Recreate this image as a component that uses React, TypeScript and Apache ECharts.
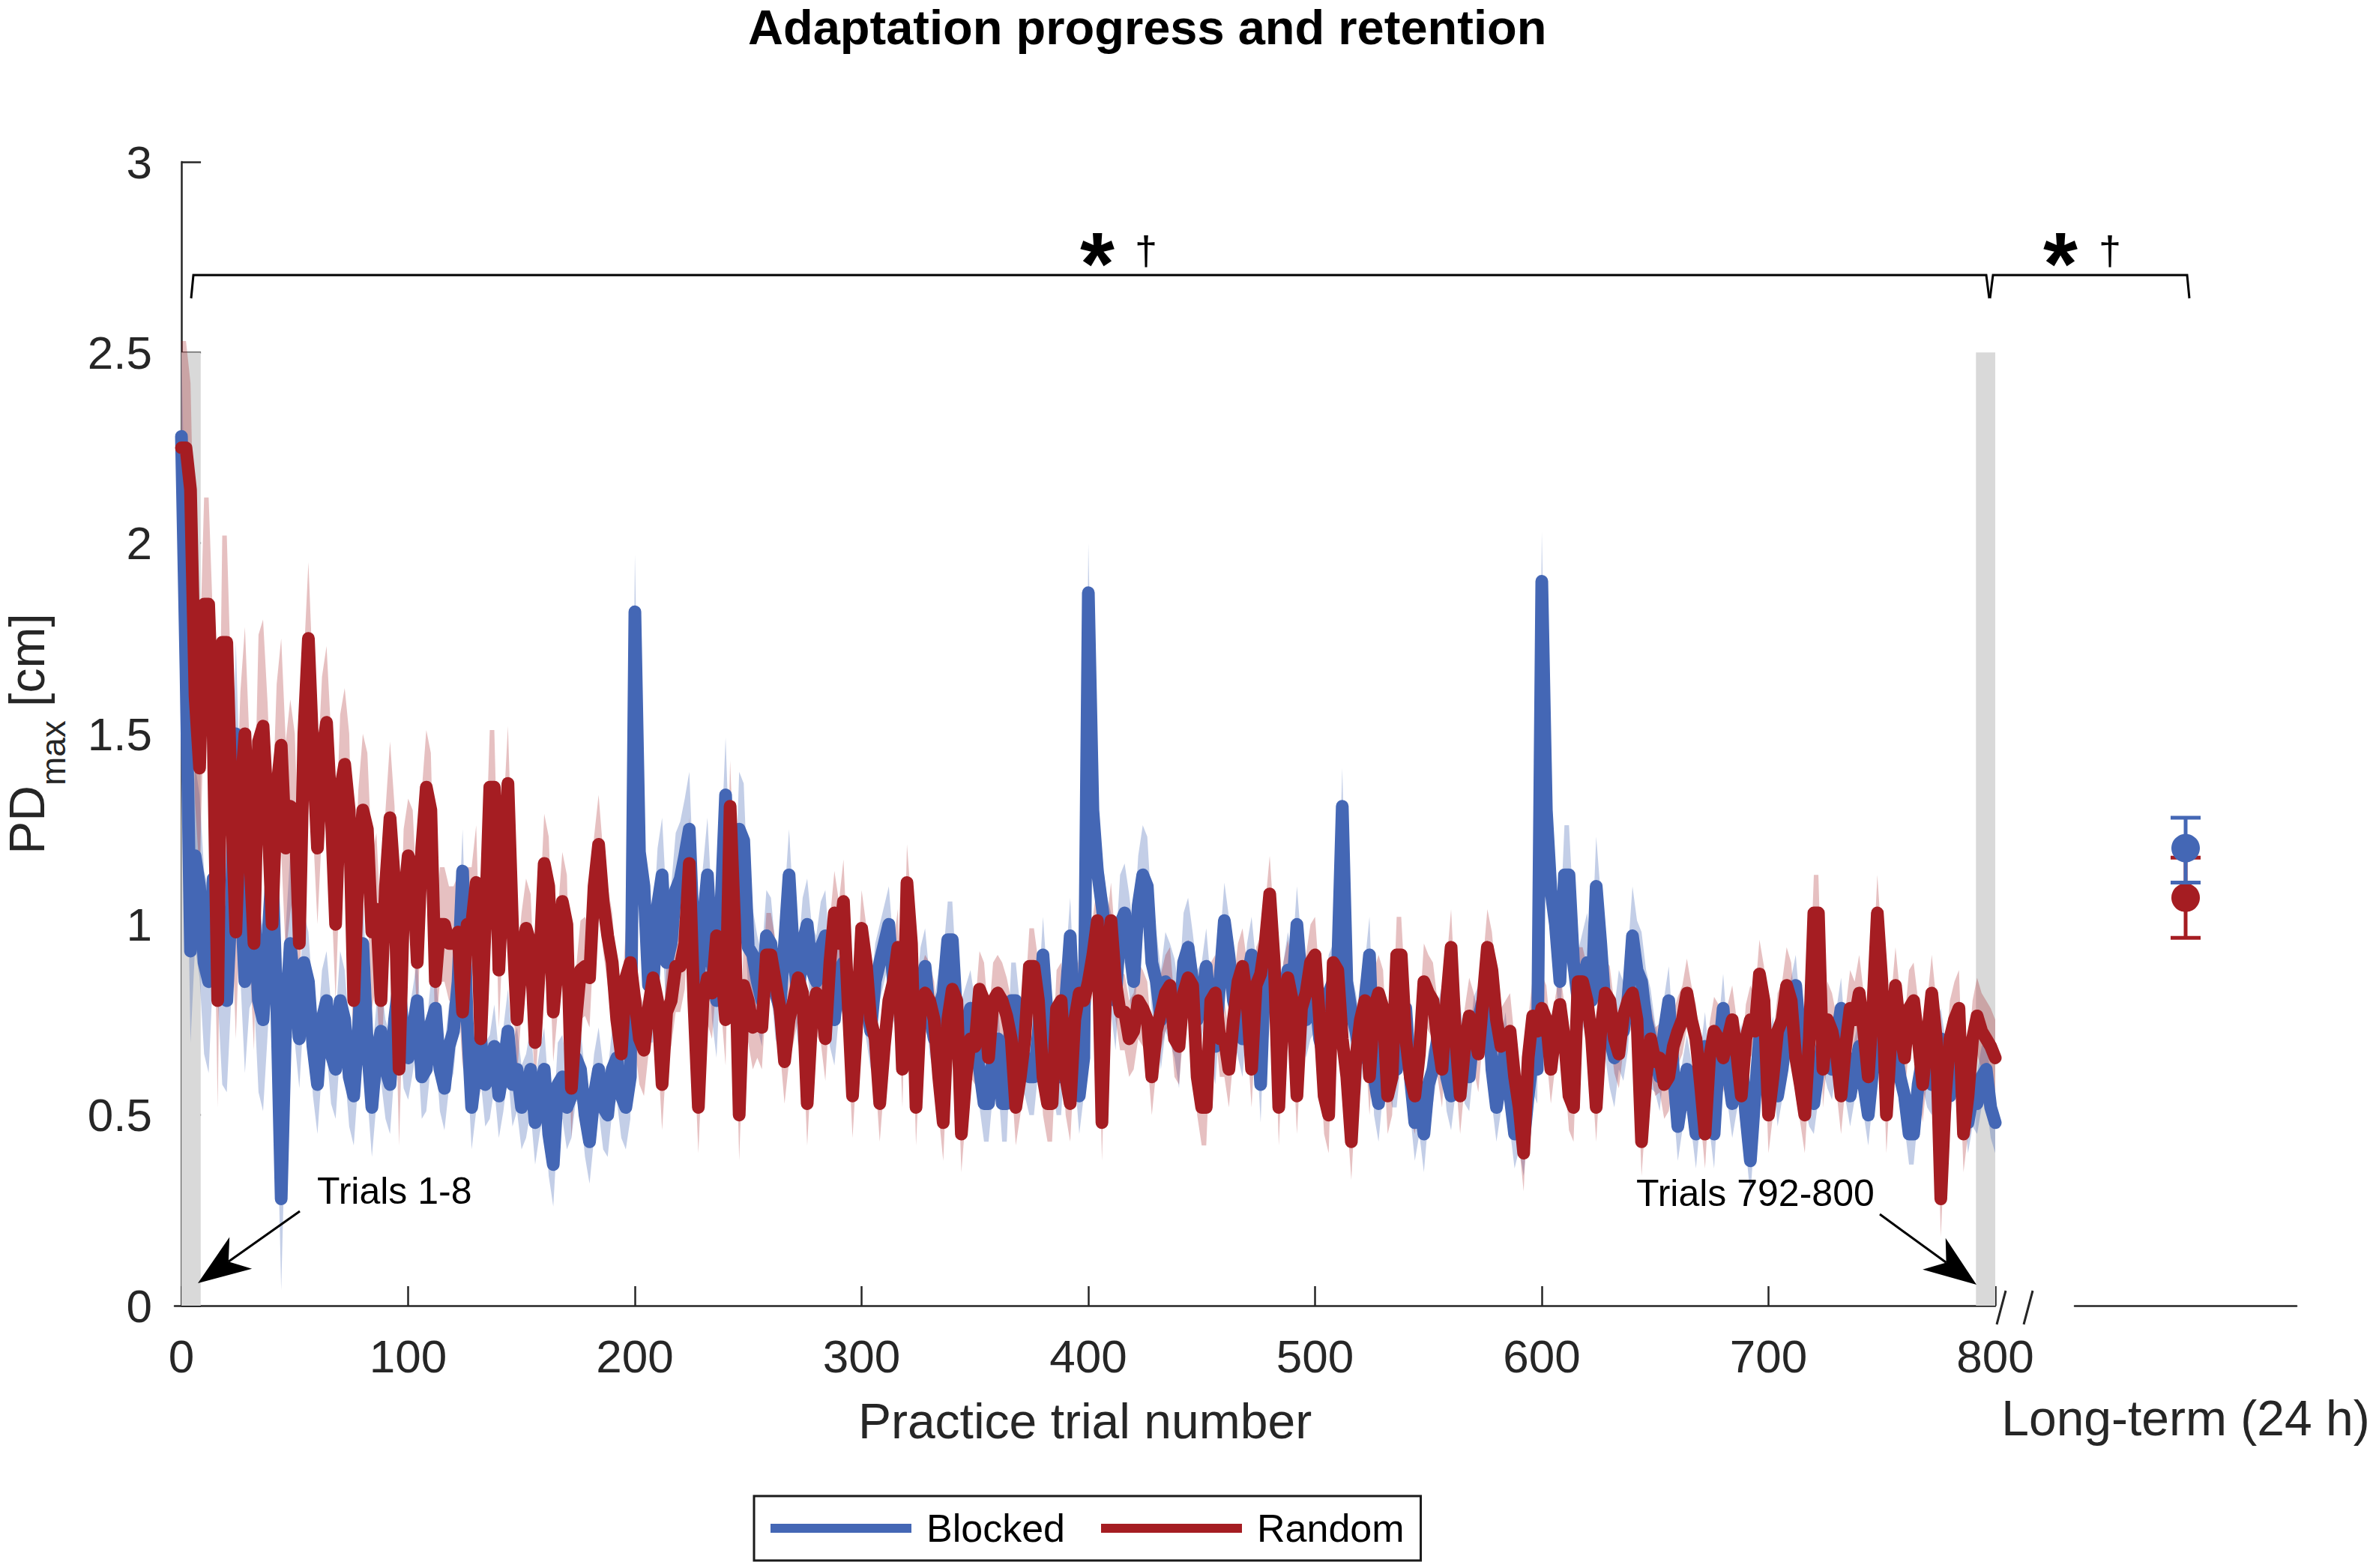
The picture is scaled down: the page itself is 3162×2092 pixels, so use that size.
import React, { useEffect, useRef } from "react";
import * as echarts from "echarts";

// ---- data ----
const TRIAL_STEP = 2; // one reading every 2 practice trials, from trial 0 to 800

const blocked: number[] = [
  2.28, 1.67, 0.93, 1.18, 1.10, 0.90, 0.85, 1.12, 1.05, 0.82, 0.80, 1.05, 1.50, 1.10, 0.85, 1.02, 1.05, 0.80, 0.75, 0.95,
  1.15, 0.80, 0.28, 0.75, 0.95, 0.82, 0.70, 0.90, 0.85, 0.68, 0.58, 0.75, 0.80, 0.66, 0.62, 0.80, 0.75, 0.60, 0.55, 0.72,
  0.95, 0.68, 0.52, 0.66, 0.72, 0.62, 0.58, 0.75, 0.85, 0.70, 0.65, 0.72, 0.80, 0.60, 0.62, 0.74, 0.78, 0.62, 0.57, 0.68,
  0.72, 0.85, 1.14, 0.75, 0.52, 0.62, 0.70, 0.58, 0.60, 0.68, 0.55, 0.62, 0.72, 0.58, 0.62, 0.52, 0.55, 0.62, 0.48, 0.56,
  0.62, 0.45, 0.37, 0.58, 0.60, 0.52, 0.55, 0.65, 0.62, 0.50, 0.43, 0.55, 0.62, 0.52, 0.50, 0.62, 0.65, 0.55, 0.52, 0.60,
  1.82, 1.19, 1.10, 0.84, 0.84, 1.05, 1.13, 0.90, 0.95, 1.09, 1.12, 1.18, 1.25, 0.95, 0.85, 1.00, 1.13, 0.90, 0.80, 1.05,
  1.34, 1.00, 0.90, 1.25, 1.22, 0.94, 0.92, 0.85, 0.80, 0.97, 0.95, 0.82, 0.78, 0.95, 1.13, 0.92, 0.80, 0.95, 1.00, 0.88,
  0.85, 0.94, 0.97, 0.80, 0.75, 0.88, 0.90, 0.78, 0.70, 0.80, 0.86, 0.80, 0.72, 0.85, 0.90, 0.95, 1.00, 0.85, 0.80, 0.84,
  0.86, 0.78, 0.72, 0.84, 0.89, 0.76, 0.70, 0.78, 0.82, 0.96, 0.96, 0.75, 0.70, 0.74, 0.78, 0.70, 0.62, 0.53, 0.53, 0.66,
  0.70, 0.53, 0.53, 0.80, 0.80, 0.68, 0.65, 0.60, 0.60, 0.72, 0.92, 0.75, 0.68, 0.60, 0.60, 0.80, 0.97, 0.70, 0.55, 0.65,
  1.87, 1.30, 1.14, 1.05, 0.95, 0.90, 0.80, 1.00, 1.03, 0.95, 0.85, 1.05, 1.13, 1.10, 0.90, 0.85, 0.75, 0.85, 0.82, 0.78,
  0.70, 0.90, 0.94, 0.85, 0.75, 0.80, 0.89, 0.75, 0.68, 0.85, 1.01, 0.92, 0.80, 0.75, 0.70, 0.85, 0.92, 0.80, 0.58, 0.90,
  0.95, 0.80, 0.72, 0.80, 0.88, 0.82, 1.00, 0.85, 0.75, 0.80, 0.82, 0.70, 0.65, 0.82, 0.85, 0.90, 1.31, 0.85, 0.77, 0.72,
  0.65, 0.80, 0.92, 0.60, 0.53, 0.66, 0.70, 0.62, 0.62, 0.75, 0.78, 0.60, 0.48, 0.55, 0.45, 0.58, 0.62, 0.70, 0.75, 0.60,
  0.55, 0.65, 0.70, 0.62, 0.60, 0.72, 0.75, 0.80, 0.84, 0.62, 0.52, 0.60, 0.68, 0.55, 0.45, 0.50, 0.43, 0.55, 0.65, 0.62,
  1.90, 1.30, 1.09, 1.00, 0.85, 1.13, 1.13, 0.90, 0.80, 0.85, 0.90, 0.80, 1.10, 0.95, 0.78, 0.70, 0.65, 0.75, 0.72, 0.80,
  0.97, 0.88, 0.85, 0.75, 0.70, 0.65, 0.60, 0.72, 0.80, 0.62, 0.47, 0.55, 0.62, 0.55, 0.45, 0.58, 0.68, 0.55, 0.45, 0.65,
  0.78, 0.62, 0.53, 0.60, 0.65, 0.50, 0.38, 0.55, 0.70, 0.62, 0.62, 0.68, 0.55, 0.62, 0.72, 0.78, 0.84, 0.70, 0.60, 0.55,
  0.53, 0.62, 0.70, 0.65, 0.62, 0.70, 0.78, 0.62, 0.55, 0.62, 0.68, 0.58, 0.50, 0.62, 0.72, 0.65, 0.60, 0.66, 0.68, 0.60,
  0.55, 0.45, 0.45, 0.58, 0.65, 0.60, 0.58, 0.66, 0.70, 0.62, 0.55, 0.68, 0.72, 0.60, 0.48, 0.55, 0.53, 0.60, 0.62, 0.52,
  0.48,
];

const random: number[] = [
  2.25, 2.25, 2.14, 1.60, 1.41, 1.84, 1.84, 1.50, 0.80, 1.74, 1.74, 1.33, 0.98, 1.33, 1.50, 1.20, 0.95, 1.48, 1.52, 1.30,
  1.00, 1.35, 1.47, 1.20, 1.31, 1.30, 0.95, 1.50, 1.75, 1.45, 1.20, 1.45, 1.53, 1.30, 1.00, 1.35, 1.42, 1.30, 0.80, 1.15,
  1.30, 1.25, 0.98, 1.04, 0.80, 1.10, 1.28, 1.11, 0.62, 1.05, 1.18, 1.15, 0.90, 1.20, 1.36, 1.30, 0.85, 1.00, 1.00, 0.95,
  0.95, 0.98, 0.77, 1.00, 1.00, 1.11, 0.70, 1.00, 1.36, 1.36, 0.88, 1.14, 1.37, 1.00, 0.75, 0.90, 0.99, 0.95, 0.69, 0.90,
  1.16, 1.10, 0.77, 0.90, 1.06, 1.00, 0.57, 0.75, 0.88, 0.89, 0.86, 1.10, 1.21, 1.06, 0.97, 0.90, 0.75, 0.66, 0.86, 0.90,
  0.80, 0.70, 0.67, 0.78, 0.86, 0.80, 0.58, 0.77, 0.80, 0.89, 0.89, 0.95, 1.16, 0.80, 0.52, 0.80, 0.86, 0.82, 0.97, 0.90,
  0.75, 1.31, 1.00, 0.50, 0.84, 0.80, 0.73, 0.76, 0.73, 0.92, 0.92, 0.85, 0.78, 0.64, 0.75, 0.80, 0.86, 0.82, 0.53, 0.75,
  0.82, 0.80, 0.70, 0.90, 1.03, 0.95, 1.06, 0.80, 0.55, 0.75, 0.99, 0.90, 0.75, 0.70, 0.53, 0.68, 0.80, 0.85, 0.94, 0.62,
  1.11, 0.95, 0.52, 0.78, 0.82, 0.80, 0.75, 0.60, 0.48, 0.75, 0.83, 0.80, 0.45, 0.60, 0.70, 0.68, 0.83, 0.80, 0.65, 0.80,
  0.82, 0.80, 0.76, 0.70, 0.52, 0.60, 0.70, 0.89, 0.89, 0.80, 0.60, 0.53, 0.53, 0.78, 0.80, 0.60, 0.53, 0.75, 0.82, 0.80,
  0.85, 0.92, 1.01, 0.48, 0.90, 1.01, 0.85, 0.77, 0.77, 0.70, 0.72, 0.80, 0.78, 0.75, 0.60, 0.72, 0.77, 0.82, 0.84, 0.70,
  0.68, 0.82, 0.86, 0.84, 0.60, 0.52, 0.52, 0.80, 0.82, 0.70, 0.70, 0.62, 0.75, 0.85, 0.89, 0.80, 0.62, 0.84, 0.87, 0.95,
  1.08, 0.90, 0.52, 0.80, 0.86, 0.80, 0.55, 0.78, 0.82, 0.90, 0.92, 0.75, 0.55, 0.50, 0.90, 0.88, 0.70, 0.60, 0.43, 0.65,
  0.75, 0.80, 0.60, 0.78, 0.82, 0.78, 0.55, 0.60, 0.92, 0.92, 0.70, 0.60, 0.55, 0.66, 0.85, 0.82, 0.80, 0.70, 0.62, 0.80,
  0.94, 0.70, 0.55, 0.68, 0.76, 0.72, 0.66, 0.80, 0.94, 0.88, 0.75, 0.68, 0.70, 0.72, 0.60, 0.52, 0.40, 0.65, 0.76, 0.72,
  0.78, 0.75, 0.62, 0.72, 0.79, 0.70, 0.55, 0.52, 0.85, 0.85, 0.80, 0.70, 0.52, 0.72, 0.82, 0.80, 0.70, 0.66, 0.76, 0.80,
  0.82, 0.75, 0.43, 0.60, 0.70, 0.64, 0.65, 0.58, 0.60, 0.68, 0.72, 0.75, 0.82, 0.75, 0.70, 0.58, 0.45, 0.65, 0.72, 0.70,
  0.65, 0.70, 0.75, 0.66, 0.55, 0.70, 0.75, 0.72, 0.87, 0.80, 0.50, 0.60, 0.72, 0.75, 0.84, 0.80, 0.65, 0.58, 0.50, 0.70,
  1.03, 1.03, 0.62, 0.75, 0.72, 0.66, 0.55, 0.68, 0.78, 0.75, 0.82, 0.72, 0.60, 0.78, 1.03, 0.85, 0.50, 0.70, 0.84, 0.72,
  0.65, 0.78, 0.80, 0.70, 0.58, 0.70, 0.82, 0.70, 0.28, 0.55, 0.70, 0.75, 0.78, 0.45, 0.55, 0.70, 0.76, 0.72, 0.70, 0.68,
  0.65,
];

// standard error, one value per block of 50 trials (0-49, 50-99, ..., 800)
const SEM_BLOCK = 50;
const blockedSem: number[] = [0.24, 0.13, 0.11, 0.11, 0.15, 0.12, 0.10, 0.10, 0.13, 0.10, 0.10, 0.09, 0.13, 0.09, 0.08, 0.08, 0.08];
const randomSem: number[] = [0.28, 0.20, 0.15, 0.13, 0.12, 0.11, 0.10, 0.10, 0.10, 0.10, 0.10, 0.10, 0.09, 0.09, 0.10, 0.10, 0.10];

const xTicks: number[] = [0, 100, 200, 300, 400, 500, 600, 700, 800];

// long-term retention (24 h)
const retentionGroups: string[] = ["Blocked", "Random"];
const retentionMean: number[] = [1.2, 1.07];
const retentionLow: number[] = [1.11, 0.965];
const retentionHigh: number[] = [1.28, 1.175];

// highlighted trial windows
const trialWindows: number[][] = [
  [0, 8.5],
  [791.5, 800],
];
const windowTop = 2.5;

// ---- styling ----
const FONT = "'Liberation Sans', Arial, Helvetica, sans-serif";
const AXIS = "#262626";
const BLUE = "#4467b5";
const RED = "#a51d22";
const BLUE_BAND = "rgba(68,103,181,0.32)";
const RED_BAND = "rgba(165,29,34,0.28)";
const groupColor: Record<string, string> = { Blocked: BLUE, Random: RED };

function arrow(x0: number, y0: number, x1: number, y1: number) {
  const dx = x0 - x1;
  const dy = y0 - y1;
  const len = Math.sqrt(dx * dx + dy * dy);
  const ux = dx / len, uy = dy / len;
  const nx = -uy, ny = ux;
  const L = 70, W = 26, N = 50;
  return [
    { type: "line", shape: { x1: x0, y1: y0, x2: x1 + ux * N, y2: y1 + uy * N }, style: { stroke: "#000", lineWidth: 3 }, z: 10 },
    {
      type: "polygon",
      shape: {
        points: [
          [x1, y1],
          [x1 + ux * L + nx * W, y1 + uy * L + ny * W],
          [x1 + ux * N, y1 + uy * N],
          [x1 + ux * L - nx * W, y1 + uy * L - ny * W],
        ],
      },
      style: { fill: "#000" },
      z: 10,
    },
  ];
}

export default function App() {
  const ref = useRef<HTMLDivElement>(null);

  useEffect(() => {
    if (!ref.current) return;
    const chart = echarts.init(ref.current, undefined, { renderer: "svg" });

    const trials = blocked.map((_, i) => i * TRIAL_STEP);
    const semAt = (arr: number[], t: number) => arr[Math.min(arr.length - 1, Math.floor(t / SEM_BLOCK))];

    const bandSeries = (name: string, mean: number[], sem: number[], color: string) => {
      const rows = trials.map((t, i) => [t, mean[i] - semAt(sem, t), mean[i] + semAt(sem, t)]);
      return {
        type: "custom",
        name: name + " band",
        xAxisIndex: 0,
        yAxisIndex: 0,
        silent: true,
        z: 2,
        encode: { x: 0, y: [1, 2] },
        data: rows,
        renderItem: (params: any, api: any) => {
          if (params.dataIndex !== 0) return null;
          const upper = rows.map((r) => api.coord([r[0], r[2]]));
          const lower = rows.map((r) => api.coord([r[0], r[1]])).reverse();
          return { type: "polygon", shape: { points: upper.concat(lower) }, style: { fill: color } };
        },
      };
    };

    const meanSeries = (name: string, mean: number[], color: string) => ({
      type: "line",
      name,
      xAxisIndex: 0,
      yAxisIndex: 0,
      data: trials.map((t, i) => [t, mean[i]]),
      symbol: "none",
      color,
      itemStyle: { color },
      lineStyle: { color, width: 17, join: "round", cap: "round" },
      z: 3,
    });

    const retentionOrder = [1, 0]; // draw Random first so Blocked sits on top

    const option: any = {
      animation: false,
      backgroundColor: "#ffffff",
      title: {
        text: "Adaptation progress and retention",
        left: 998,
        top: 4,
        padding: 0,
        textStyle: { fontSize: 65, fontWeight: "bold", color: "#000", fontFamily: FONT },
      },
      legend: {
        data: ["Blocked", "Random"],
        left: 1006,
        top: 1996,
        orient: "horizontal",
        icon: "rect",
        itemWidth: 188,
        itemHeight: 12,
        itemGap: 48,
        padding: [13, 22, 13, 22],
        borderColor: "#1a1a1a",
        borderWidth: 3,
        textStyle: { fontSize: 52, color: "#000", fontFamily: FONT, padding: [0, 0, 0, 15], lineHeight: 60 },
      },
      grid: [
        { left: 233, top: 216, width: 2429, height: 1526, outerBoundsMode: "none", containLabel: false },
        { left: 2768, top: 216, width: 296, height: 1526, outerBoundsMode: "none", containLabel: false },
      ],
      xAxis: [
        {
          type: "value",
          gridIndex: 0,
          min: -3,
          max: 800,
          name: "Practice trial number",
          nameLocation: "middle",
          nameGap: 154,
          nameTextStyle: { fontSize: 66, color: AXIS, fontFamily: FONT, verticalAlign: "middle" },
          axisLine: { show: true, onZero: false, lineStyle: { color: AXIS, width: 2.5 } },
          axisTick: { show: true, inside: true, length: 26, customValues: xTicks, lineStyle: { color: AXIS, width: 2.5 } },
          axisLabel: { customValues: xTicks, fontSize: 62, color: AXIS, fontFamily: FONT, margin: 67, verticalAlign: "middle" },
          splitLine: { show: false },
        },
        {
          type: "value",
          gridIndex: 1,
          min: 0,
          max: 2,
          name: "Long-term (24 h)",
          nameLocation: "middle",
          nameGap: 150,
          nameTextStyle: { fontSize: 66, color: AXIS, fontFamily: FONT, verticalAlign: "middle" },
          axisLine: { show: true, onZero: false, lineStyle: { color: AXIS, width: 2.5 } },
          axisTick: { show: false },
          axisLabel: { show: false },
          splitLine: { show: false },
        },
      ],
      yAxis: [
        {
          type: "value",
          gridIndex: 0,
          min: 0,
          max: 3,
          interval: 0.5,
          name: "{a|PD}{b|max}{a| [cm]}",
          nameLocation: "middle",
          nameGap: 197,
          nameTextStyle: {
            verticalAlign: "middle",
            rich: {
              a: { fontSize: 66, color: AXIS, fontFamily: FONT, lineHeight: 116 },
              b: { fontSize: 46, color: AXIS, fontFamily: FONT, verticalAlign: "bottom", lineHeight: 46 },
            },
          },
          axisLine: { show: true, lineStyle: { color: AXIS, width: 2.5 } },
          axisTick: { show: true, inside: true, length: 26, lineStyle: { color: AXIS, width: 2.5 } },
          axisLabel: { fontSize: 62, color: AXIS, fontFamily: FONT, margin: 30 },
          splitLine: { show: false },
        },
        { type: "value", gridIndex: 1, min: 0, max: 3, show: false },
      ],
      series: [
        {
          type: "custom",
          name: "windows",
          xAxisIndex: 0,
          yAxisIndex: 0,
          silent: true,
          z: 1,
          encode: { x: [0, 1], y: 2 },
          data: trialWindows.map(([a, b]) => [a, b, windowTop]),
          renderItem: (params: any, api: any) => {
            const p0 = api.coord([api.value(0), api.value(2)]);
            const p1 = api.coord([api.value(1), 0]);
            return {
              type: "rect",
              shape: { x: p0[0], y: p0[1], width: p1[0] - p0[0], height: p1[1] - p0[1] },
              style: { fill: "#d9d9d9" },
            };
          },
        },
        bandSeries("Blocked", blocked, blockedSem, BLUE_BAND),
        bandSeries("Random", random, randomSem, RED_BAND),
        meanSeries("Blocked", blocked, BLUE),
        meanSeries("Random", random, RED),
        {
          type: "custom",
          name: "retention",
          xAxisIndex: 1,
          yAxisIndex: 1,
          z: 4,
          encode: { x: 0, y: [1, 2, 3] },
          data: retentionOrder.map((i) => [1, retentionMean[i], retentionLow[i], retentionHigh[i], i]),
          renderItem: (params: any, api: any) => {
            const gi = api.value(4);
            const color = groupColor[retentionGroups[gi]];
            const pm = api.coord([api.value(0), api.value(1)]);
            const pl = api.coord([api.value(0), api.value(2)]);
            const ph = api.coord([api.value(0), api.value(3)]);
            const cx = pm[0];
            const s = { stroke: color, lineWidth: 5 };
            return {
              type: "group",
              children: [
                { type: "line", shape: { x1: cx, y1: pl[1], x2: cx, y2: ph[1] }, style: s },
                { type: "line", shape: { x1: cx - 20, y1: pl[1], x2: cx + 20, y2: pl[1] }, style: s },
                { type: "line", shape: { x1: cx - 20, y1: ph[1], x2: cx + 20, y2: ph[1] }, style: s },
                { type: "circle", shape: { cx, cy: pm[1], r: 19 }, style: { fill: color } },
              ],
            };
          },
        },
      ],
      graphic: [
        // significance brackets
        { type: "polyline", shape: { points: [[255, 398], [258, 367], [2650, 367], [2654, 398]] }, style: { stroke: "#000", lineWidth: 3, fill: null } },
        { type: "polyline", shape: { points: [[2655, 398], [2659, 367], [2918, 367], [2921, 398]] }, style: { stroke: "#000", lineWidth: 3, fill: null } },
        { type: "text", x: 1464, y: 352, style: { text: "*", fontSize: 118, fontWeight: "bold", fill: "#000", fontFamily: FONT, align: "center", verticalAlign: "middle" } },
        { type: "text", x: 1529, y: 334, style: { text: "†", fontSize: 54, fill: "#000", fontFamily: FONT, align: "center", verticalAlign: "middle" } },
        { type: "text", x: 2749, y: 352, style: { text: "*", fontSize: 118, fontWeight: "bold", fill: "#000", fontFamily: FONT, align: "center", verticalAlign: "middle" } },
        { type: "text", x: 2815, y: 334, style: { text: "†", fontSize: 54, fill: "#000", fontFamily: FONT, align: "center", verticalAlign: "middle" } },
        // window annotations
        { type: "text", x: 423, y: 1589, style: { text: "Trials 1-8", fontSize: 50, fill: "#000", fontFamily: FONT, align: "left", verticalAlign: "middle" }, z: 10 },
        { type: "text", x: 2183, y: 1592, style: { text: "Trials 792-800", fontSize: 50, fill: "#000", fontFamily: FONT, align: "left", verticalAlign: "middle" }, z: 10 },
        ...arrow(400, 1616, 264, 1712),
        ...arrow(2508, 1620, 2637, 1714),
        // axis break marks
        { type: "line", shape: { x1: 2664, y1: 1767, x2: 2676, y2: 1722 }, style: { stroke: AXIS, lineWidth: 3 } },
        { type: "line", shape: { x1: 2700, y1: 1767, x2: 2712, y2: 1722 }, style: { stroke: AXIS, lineWidth: 3 } },
      ],
    };

    chart.setOption(option);
    return () => chart.dispose();
  }, []);

  return (
    <div
      ref={ref}
      style={{ position: "fixed", left: 0, top: 0, width: 3162, height: 2092, background: "#fff" }}
    />
  );
}
